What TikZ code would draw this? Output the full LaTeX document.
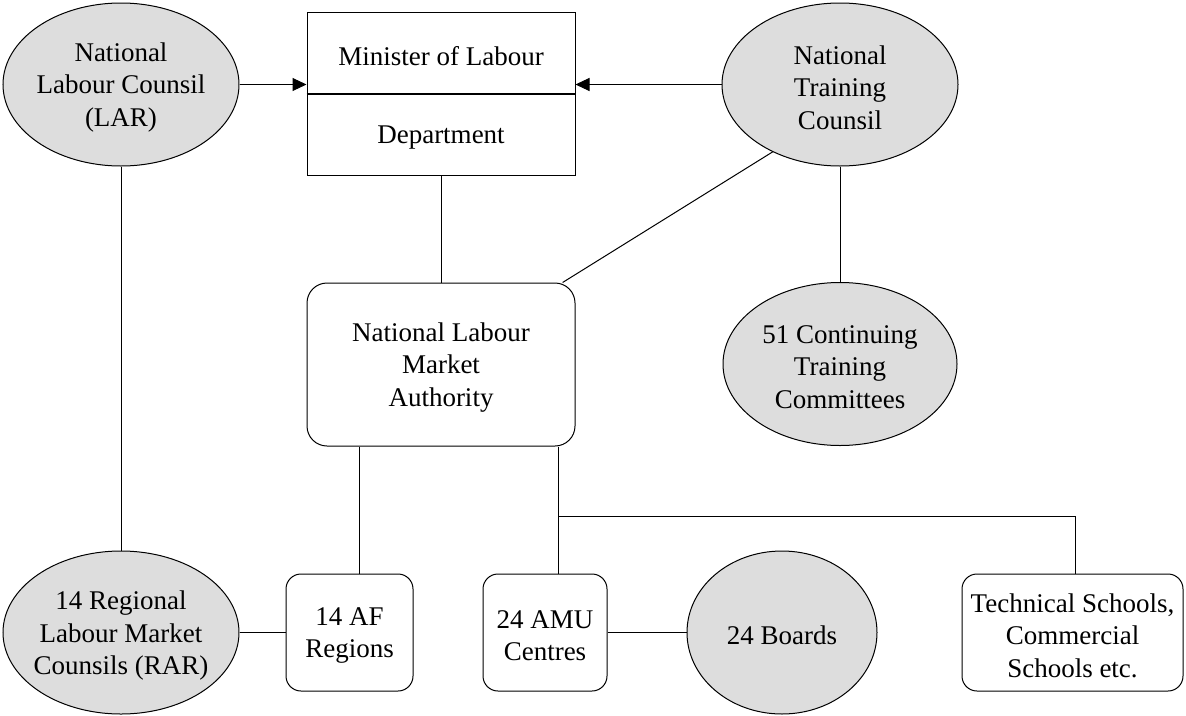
\documentclass[tikz,border=0pt]{standalone}
\usepackage{fontspec}
\setmainfont{Liberation Serif}
\usetikzlibrary{arrows.meta,shapes.geometric}
\definecolor{ellfill}{RGB}{221,221,221}
\begin{document}
\begin{tikzpicture}[x=1pt,y=-1pt,
  ell/.style={ellipse, draw, line width=1pt, fill=ellfill, minimum width=236pt, minimum height=163pt, inner sep=0pt},
  rbox/.style={rectangle, draw, line width=1pt, rounded corners=15pt, inner sep=0pt},
  sqbox/.style={rectangle, draw, line width=1pt, inner sep=0pt},
  txt/.style={font=\fontsize{27}{32.5}\selectfont, align=center, inner sep=0pt, yshift=-3pt},
  conn/.style={line width=1pt},
  arr/.style={line width=1pt, -{Triangle[length=14pt,width=13pt]}}]
\useasboundingbox (0,0) rectangle (1186,715);

% shapes
\node[ell] (lar) at (121,84.5) {};
\node[sqbox, minimum width=268pt, minimum height=163pt] (mol) at (441,93.5) {};
\coordinate (div) at (441,94);
\node[ell] (ntc) at (840,84.5) {};
\node[rbox, rounded corners=20pt, minimum width=268pt, minimum height=163pt] (nlma) at (441,364.5) {};
\node[ell, minimum width=234pt] (ctc) at (840,364) {};
\node[ell] (rar) at (121,632.5) {};
\node[rbox, minimum width=127pt, minimum height=117pt] (af) at (349.5,632.5) {};
\node[rbox, minimum width=124pt, minimum height=117pt] (amu) at (545,632.5) {};
\node[ell, minimum width=190pt] (boards) at (782,632.5) {};
\node[rbox, minimum width=221pt, minimum height=117pt] (tech) at (1072.5,632.5) {};

% texts
\node[txt] (lar-t) at (lar) {National\\Labour Counsil\\(LAR)};
\node[txt] (minister) at (441,53) {Minister of Labour};
\node[txt] (dept) at (441,134.5) {Department};
\node[txt] (ntc-t) at (ntc) {National\\Training\\Counsil};
\node[txt] (nlma-t) at (nlma) {National Labour\\Market\\Authority};
\node[txt] (ctc-t) at (ctc) {51 Continuing\\Training\\Committees};
\node[txt] (rar-t) at (rar) {14 Regional\\Labour Market\\Counsils (RAR)};
\node[txt] (af-t) at (af) {14 AF\\Regions};
\node[txt] (amu-t) at (amu) {24 AMU\\Centres};
\node[txt] (boards-t) at (boards) {24 Boards};
\node[txt] (tech-t) at (tech) {Technical Schools,\\Commercial\\Schools etc.};

% divider
\draw[line width=2pt] (mol.west |- div) -- (mol.east |- div);

% connectors
\draw[arr] (lar.east) -- (lar.east -| mol.west);
\draw[arr] (ntc.west) -- (ntc.west -| mol.east);
\draw[conn] (lar) -- (rar);
\draw[conn] (mol) -- (nlma);
\draw[conn] (ntc.225) -- (nlma.34);
\draw[conn] (ntc) -- (ctc);
\coordinate (l1) at (359,0);
\draw[conn] (nlma.south -| l1) -- (af.north -| l1);
\coordinate (l2) at (558,516);
\coordinate (l3) at (1075,516);
\draw[conn] (nlma.south -| l2) -- (amu.north -| l2);
\draw[conn] (l2) -- (l3) -- (l3 |- tech.north);
\draw[conn] (rar) -- (af);
\draw[conn] (amu) -- (boards);
\end{tikzpicture}
\end{document}
